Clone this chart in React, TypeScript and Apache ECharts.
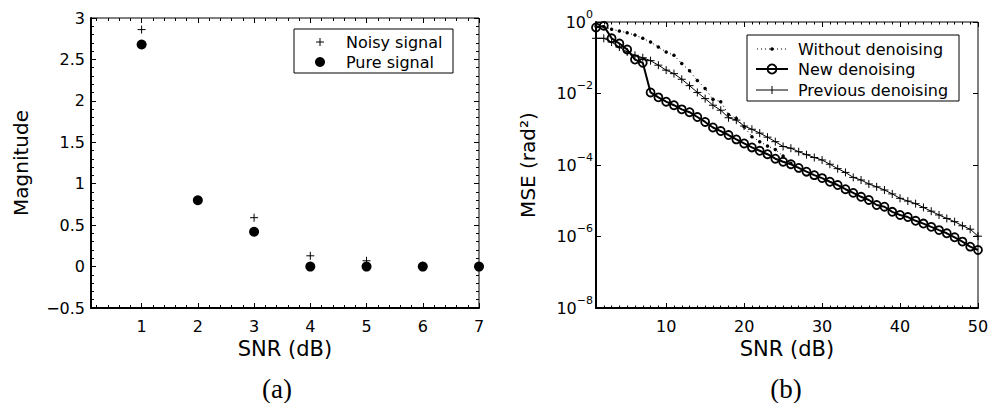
import React, { useEffect, useRef } from 'react';
import * as echarts from 'echarts';

// ---------- data: panel (a) ----------
const snrLeft = [1, 2, 3, 4, 5, 6, 7];
const noisySignal = [2.86, 0.8, 0.59, 0.13, 0.07, 0.0, 0.0];
const pureSignal = [2.68, 0.8, 0.42, 0.0, 0.0, 0.0, 0.0];

// ---------- data: panel (b) ----------
const snrRight = [
  1, 2, 3, 4, 5, 6, 7, 8, 9, 10, 11, 12, 13, 14, 15, 16, 17, 18, 19, 20, 21, 22, 23, 24, 25,
  26, 27, 28, 29, 30, 31, 32, 33, 34, 35, 36, 37, 38, 39, 40, 41, 42, 43, 44, 45, 46, 47, 48, 49, 50,
];
const mseWithout = [
  0.76, 0.74, 0.63, 0.56, 0.5, 0.43, 0.35, 0.275, 0.2, 0.145, 0.117, 0.069, 0.043, 0.023, 0.0138,
  0.0069, 0.0059, 0.0026, 0.002, 1.17e-3, 6.2e-4, 4.5e-4, 3.4e-4, 2.7e-4, 1.78e-4, 1.12e-4,
];
const mseNew = [
  0.7, 0.78, 0.35, 0.25, 0.17, 0.089, 0.072, 0.0107, 0.0078, 0.0059,
  0.0047, 0.0036, 0.003, 0.0022, 0.0016, 1.12e-3, 8.9e-4, 6.9e-4, 5.2e-4, 4.0e-4,
  3.1e-4, 2.5e-4, 2.0e-4, 1.5e-4, 1.23e-4, 1.05e-4, 8.3e-5, 6.5e-5, 5.2e-5, 4.3e-5,
  3.4e-5, 2.75e-5, 2.1e-5, 1.66e-5, 1.29e-5, 1.05e-5, 7.6e-6, 6.8e-6, 4.9e-6, 4.0e-6,
  3.5e-6, 2.75e-6, 2.3e-6, 1.86e-6, 1.51e-6, 1.23e-6, 9.5e-7, 7.2e-7, 5.2e-7, 4.2e-7,
];
const msePrevious = [
  0.35, 0.35, 0.275, 0.2, 0.145, 0.117, 0.1, 0.083, 0.062, 0.045,
  0.036, 0.025, 0.0166, 0.0107, 0.0072, 0.0047, 0.0034, 0.0021, 0.0018, 1.23e-3,
  1.0e-3, 7.8e-4, 6.0e-4, 4.5e-4, 3.3e-4, 2.95e-4, 2.35e-4, 1.95e-4, 1.62e-4, 1.38e-4,
  1.05e-4, 7.9e-5, 6.2e-5, 4.5e-5, 3.8e-5, 2.95e-5, 2.45e-5, 2.0e-5, 1.55e-5, 1.17e-5,
  9.8e-6, 8.3e-6, 6.5e-6, 5.1e-6, 4.0e-6, 3.2e-6, 2.6e-6, 2.0e-6, 1.6e-6, 1.02e-6,
];

const legendLeft = ['Noisy signal', 'Pure signal'];
const legendRight = ['Without denoising', 'New denoising', 'Previous denoising'];
const panelLabels = ['(a)', '(b)'];

const FONT = '"DejaVu Sans", sans-serif';
const SERIF = '"Liberation Serif", serif';
const PLUS = 'path://M0,5L10,5M5,0L5,10';

const tickInside = { show: true, inside: true, length: 5, lineStyle: { color: '#000', width: 1 } };
const labelStyle = { color: '#000', fontSize: 16, fontFamily: FONT };
const nameStyle = { color: '#000', fontSize: 20, fontFamily: FONT };

function fmtMinus(v: number) {
  return v < 0 ? '\u2212' + Math.abs(v) : String(v);
}

function logLabel(v: number) {
  const e = Math.round(Math.log10(v));
  return '{b|10}{s|' + (e < 0 ? '\u2212' + -e : String(e)) + '}';
}

export default function App() {
  const ref = useRef<HTMLDivElement>(null);

  useEffect(() => {
    if (!ref.current) return;
    const chart = echarts.init(ref.current, undefined, { renderer: 'svg' });

    const leftX = {
      type: 'value',
      gridIndex: 0,
      min: 0.1,
      max: 7,
      splitNumber: 7,
      splitLine: { show: false },
    };
    const leftY = {
      type: 'value',
      gridIndex: 0,
      min: -0.5,
      max: 3,
      interval: 0.5,
      splitLine: { show: false },
    };
    const rightX = {
      type: 'value',
      gridIndex: 1,
      min: 1,
      max: 50,
      splitNumber: 5,
      splitLine: { show: false },
    };
    const rightXMinor = {
      type: 'value',
      gridIndex: 1,
      min: 1,
      max: 50,
      interval: 1,
      splitLine: { show: false },
      axisLine: { show: false },
      axisLabel: { show: false },
      axisTick: { show: true, inside: true, length: 2.5, lineStyle: { color: '#000', width: 1 } },
    };
    const rightY = {
      type: 'log',
      logBase: 100,
      gridIndex: 1,
      min: 1e-8,
      max: 1,
      splitLine: { show: false },
    };

    const option: any = {
      animation: false,
      backgroundColor: '#fff',
      grid: [
        { left: 91, top: 18, width: 388, height: 290, show: true, borderColor: '#000', borderWidth: 1, backgroundColor: 'transparent' },
        { left: 596, top: 22, width: 382, height: 286, show: true, borderColor: '#000', borderWidth: 1, backgroundColor: 'transparent' },
      ],
      xAxis: [
        {
          ...leftX,
          position: 'bottom',
          axisLine: { show: true, onZero: false, lineStyle: { color: '#000', width: 2 } },
          axisTick: tickInside,
          minorTick: { show: true, splitNumber: 5, length: 3, lineStyle: { color: '#000', width: 1 } },
          axisLabel: { ...labelStyle, margin: 10, showMinLabel: false },
          name: 'SNR (dB)',
          nameLocation: 'middle',
          nameGap: 27,
          nameTextStyle: { ...nameStyle, fontSize: 21 },
        },
        {
          ...leftX,
          position: 'top',
          axisLine: { show: false, onZero: false },
          axisTick: tickInside,
          minorTick: { show: true, splitNumber: 5, length: 3, lineStyle: { color: '#000', width: 1 } },
          axisLabel: { show: false },
        },
        {
          ...rightX,
          position: 'bottom',
          axisLine: { show: true, onZero: false, lineStyle: { color: '#000', width: 2 } },
          axisTick: tickInside,
          axisLabel: { ...labelStyle, margin: 10, showMinLabel: false },
          name: 'SNR (dB)',
          nameLocation: 'middle',
          nameGap: 27,
          nameTextStyle: { ...nameStyle, fontSize: 21 },
        },
        {
          ...rightX,
          position: 'top',
          axisLine: { show: false, onZero: false },
          axisTick: tickInside,
          axisLabel: { show: false },
        },
        { ...rightXMinor, position: 'bottom' },
        { ...rightXMinor, position: 'top' },
      ],
      yAxis: [
        {
          ...leftY,
          position: 'left',
          axisLine: { show: true, onZero: false, lineStyle: { color: '#000', width: 2 } },
          axisTick: tickInside,
          minorTick: { show: true, splitNumber: 5, length: 3, lineStyle: { color: '#000', width: 1 } },
          axisLabel: { ...labelStyle, margin: 6, formatter: fmtMinus },
          name: 'Magnitude',
          nameLocation: 'middle',
          nameGap: 60,
          nameTextStyle: nameStyle,
        },
        {
          ...leftY,
          position: 'right',
          axisLine: { show: false, onZero: false },
          axisTick: tickInside,
          minorTick: { show: true, splitNumber: 5, length: 3, lineStyle: { color: '#000', width: 1 } },
          axisLabel: { show: false },
        },
        {
          ...rightY,
          position: 'left',
          axisLine: { show: true, onZero: false, lineStyle: { color: '#000', width: 2 } },
          axisTick: tickInside,
          axisLabel: {
            margin: 3,
            formatter: logLabel,
            rich: {
              b: { fontSize: 16, fontFamily: FONT, color: '#000', lineHeight: 16 },
              s: { fontSize: 11, fontFamily: FONT, color: '#000', lineHeight: 11, padding: [0, 0, 16, 0] },
            },
          },
          name: 'MSE (rad²)',
          nameLocation: 'middle',
          nameGap: 58,
          nameTextStyle: nameStyle,
        },
        {
          ...rightY,
          position: 'right',
          axisLine: { show: false, onZero: false },
          axisTick: tickInside,
          axisLabel: { show: false },
        },
      ],
      series: [
        {
          name: legendLeft[0],
          type: 'scatter',
          xAxisIndex: 0,
          yAxisIndex: 0,
          symbol: PLUS,
          symbolSize: 8,
          itemStyle: { color: '#000', borderColor: '#000', borderWidth: 1, opacity: 1 },
          data: snrLeft.map((x, i) => [x, noisySignal[i]]),
          z: 2,
        },
        {
          name: legendLeft[1],
          type: 'scatter',
          xAxisIndex: 0,
          yAxisIndex: 0,
          symbol: 'circle',
          symbolSize: 10,
          itemStyle: { color: '#000', opacity: 1 },
          data: snrLeft.map((x, i) => [x, pureSignal[i]]),
          z: 3,
        },
        {
          name: legendRight[0],
          type: 'line',
          xAxisIndex: 2,
          yAxisIndex: 2,
          symbol: 'circle',
          symbolSize: 3.5,
          showAllSymbol: true,
          itemStyle: { color: '#000' },
          lineStyle: { color: '#000', width: 1, type: [1, 3] },
          data: mseWithout.map((v, i) => [snrRight[i], v]),
          z: 2,
        },
        {
          name: legendRight[2],
          type: 'line',
          xAxisIndex: 2,
          yAxisIndex: 2,
          symbol: PLUS,
          symbolSize: 8,
          showAllSymbol: true,
          itemStyle: { color: '#000', borderColor: '#000', borderWidth: 1 },
          lineStyle: { color: '#000', width: 1 },
          data: msePrevious.map((v, i) => [snrRight[i], v]),
          z: 3,
        },
        {
          name: legendRight[1],
          type: 'line',
          xAxisIndex: 2,
          yAxisIndex: 2,
          symbol: 'circle',
          symbolSize: 8,
          showAllSymbol: true,
          itemStyle: { color: 'transparent', borderColor: '#000', borderWidth: 1.8 },
          lineStyle: { color: '#000', width: 2 },
          data: mseNew.map((v, i) => [snrRight[i], v]),
          z: 4,
        },
      ],
      graphic: [
        // legend (a)
        { type: 'rect', z: 100, shape: { x: 294, y: 29, width: 159, height: 44 }, style: { fill: '#fff', stroke: '#000', lineWidth: 1 } },
        { type: 'line', z: 101, shape: { x1: 316, y1: 42, x2: 324, y2: 42 }, style: { stroke: '#000', lineWidth: 1 } },
        { type: 'line', z: 101, shape: { x1: 320, y1: 38, x2: 320, y2: 46 }, style: { stroke: '#000', lineWidth: 1 } },
        { type: 'circle', z: 101, shape: { cx: 320, cy: 62, r: 5 }, style: { fill: '#000' } },
        { type: 'text', z: 101, x: 346, y: 42, style: { text: legendLeft[0], fill: '#000', fontSize: 16, fontFamily: FONT, verticalAlign: 'middle' } },
        { type: 'text', z: 101, x: 346, y: 62, style: { text: legendLeft[1], fill: '#000', fontSize: 16, fontFamily: FONT, verticalAlign: 'middle' } },
        // legend (b)
        { type: 'rect', z: 100, shape: { x: 747, y: 35, width: 212, height: 66 }, style: { fill: '#fff', stroke: '#000', lineWidth: 1 } },
        { type: 'line', z: 101, shape: { x1: 757, y1: 49, x2: 788, y2: 49 }, style: { stroke: '#000', lineWidth: 1, lineDash: [1, 3] } },
        { type: 'circle', z: 101, shape: { cx: 772, cy: 49, r: 1.8 }, style: { fill: '#000' } },
        { type: 'line', z: 101, shape: { x1: 756, y1: 69, x2: 788, y2: 69 }, style: { stroke: '#000', lineWidth: 2 } },
        { type: 'circle', z: 101, shape: { cx: 772, cy: 69, r: 4.5 }, style: { fill: 'none', stroke: '#000', lineWidth: 1.8 } },
        { type: 'line', z: 101, shape: { x1: 756, y1: 90, x2: 788, y2: 90 }, style: { stroke: '#000', lineWidth: 1 } },
        { type: 'line', z: 101, shape: { x1: 772, y1: 86, x2: 772, y2: 94 }, style: { stroke: '#000', lineWidth: 1 } },
        { type: 'text', z: 101, x: 798, y: 49, style: { text: legendRight[0], fill: '#000', fontSize: 16, fontFamily: FONT, verticalAlign: 'middle' } },
        { type: 'text', z: 101, x: 798, y: 69, style: { text: legendRight[1], fill: '#000', fontSize: 16, fontFamily: FONT, verticalAlign: 'middle' } },
        { type: 'text', z: 101, x: 798, y: 90, style: { text: legendRight[2], fill: '#000', fontSize: 16, fontFamily: FONT, verticalAlign: 'middle' } },
        // panel labels
        { type: 'text', z: 101, x: 277, y: 389, style: { text: panelLabels[0], fill: '#000', fontSize: 27, fontFamily: SERIF, align: 'center', verticalAlign: 'middle' } },
        { type: 'text', z: 101, x: 786, y: 389, style: { text: panelLabels[1], fill: '#000', fontSize: 27, fontFamily: SERIF, align: 'center', verticalAlign: 'middle' } },
      ],
    };

    chart.setOption(option);
    return () => chart.dispose();
  }, []);

  return (
    <div
      ref={ref}
      style={{ position: 'fixed', left: 0, top: 0, width: 992, height: 403, background: '#fff' }}
    />
  );
}
